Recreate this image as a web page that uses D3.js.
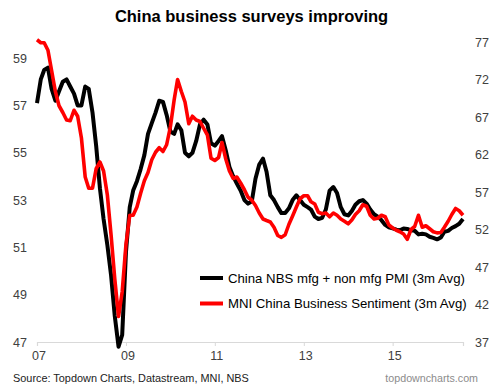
<!DOCTYPE html>
<html>
<head>
<meta charset="utf-8">
<script src="https://cdn.jsdelivr.net/npm/d3@7"></script>
<style>
body { margin: 0; background: #fff; }
text { font-family: "Liberation Sans", Arial, sans-serif; }
</style>
</head>
<body>
<script>
// China NBS mfg + non mfg PMI (3m avg), monthly Jan 2007 - Aug 2016, left axis
const nbsPmi = [
    57.1, 58.1, 58.5, 58.6, 57.7, 57.2, 57.6, 58.0, 58.1, 57.8, 57.5, 57.0,
    57.0, 57.8, 57.7, 56.7, 55.3, 53.5, 52.2, 51.1, 49.8, 48.1, 46.8, 47.3,
    50.8, 52.7, 53.4, 53.8, 54.3, 54.9, 55.8, 56.25, 56.7, 57.2, 57.15, 56.6,
    55.9, 55.8, 56.2, 55.95, 55.0, 54.85, 55.0, 55.5, 56.2, 56.4, 56.2, 55.4,
    55.3, 55.5, 55.7, 55.1, 54.4, 54.0, 53.7, 53.4, 53.0, 52.85, 52.95, 53.9,
    54.5, 54.75, 54.2, 53.2, 53.0, 52.7, 52.45, 52.45, 52.65, 53.0, 53.2, 53.0,
    52.8, 52.7, 52.6, 52.3, 52.2, 52.25, 52.6, 53.4, 53.55, 53.3, 52.7, 52.4,
    52.35, 52.55, 52.8, 52.95, 53.0, 52.85, 52.6, 52.4, 52.3, 52.15, 51.95, 51.85,
    51.8, 51.75, 51.72, 51.8, 51.78, 51.72, 51.7, 51.55, 51.58, 51.55, 51.45, 51.4,
    51.34, 51.42, 51.66, 51.7, 51.82, 51.9, 52.0, 52.2
]

// MNI China Business Sentiment (3m avg), same months, right axis
const mniSentiment = [
    77.3, 76.9, 76.9, 75.9, 73.2, 70.4, 68.5, 67.6, 66.6, 66.5, 67.9, 67.1,
    64.2, 59.0, 57.5, 57.5, 60.1, 61.0, 59.8, 56.6, 51.2, 45.4, 40.4, 43.7,
    50.0, 53.9, 53.9, 55.0, 56.8, 58.5, 59.6, 61.3, 62.3, 62.9, 62.4, 63.3,
    65.7, 69.3, 72.0, 70.4, 69.0, 66.1, 67.1, 66.6, 66.4, 65.5, 64.6, 61.5,
    61.2, 61.6, 63.6, 61.4, 59.8, 58.8, 59.0, 58.2, 57.3, 56.3, 55.9, 55.2,
    54.2, 53.4, 53.2, 53.0, 52.3, 51.2, 50.95, 51.3, 52.7, 53.8, 55.0, 56.1,
    56.5, 56.5, 55.7, 55.4, 54.3, 54.1, 54.2, 53.7, 54.2, 53.9, 53.4, 53.1,
    52.75, 53.3, 54.0, 54.5, 55.3, 55.1, 53.9, 53.4, 53.5, 53.9, 53.7, 52.6,
    52.2, 51.9, 51.7, 51.4, 50.7, 52.0, 52.4, 53.9, 52.3, 52.5, 52.1, 51.7,
    51.55, 51.6, 52.3, 53.1, 54.0, 54.8, 54.5, 53.9
]

const leftTicks = [47, 49, 51, 53, 55, 57, 59]
const rightTicks = [37, 42, 47, 52, 57, 62, 67, 72, 77]
const yearTicks = [2007, 2009, 2011, 2013, 2015]
const seriesNames = ["China NBS mfg + non mfg PMI (3m Avg)", "MNI China Business Sentiment (3m Avg)"]

const months = d3.timeMonths(new Date(2007, 0, 1), new Date(2016, 8, 1))

const svg = d3.select("body").append("svg")
    .attr("width", 499)
    .attr("height", 388)

// plot area edges
const plotLeft = 37, plotRight = 463, plotTop = 34.5, plotBottom = 342

const x = d3.scaleTime()
    .domain([months[0], months[months.length - 1]])
    .range([plotLeft, plotRight])

const yL = d3.scaleLinear().domain([47, 60]).range([plotBottom, plotTop])
const yR = d3.scaleLinear().domain([37, 78]).range([plotBottom, plotTop])

// title
svg.append("text")
    .attr("x", 251.5)
    .attr("y", 21.5)
    .attr("text-anchor", "middle")
    .style("font-size", "16.5px")
    .style("font-weight", "bold")
    .text("China business surveys improving")

// left axis labels
svg.selectAll(".yl")
    .data(leftTicks)
    .enter()
    .append("text")
    .attr("x", 27)
    .attr("y", d => yL(d) + 4.5)
    .attr("text-anchor", "end")
    .style("font-size", "12.5px")
    .style("fill", "#404040")
    .text(d => d)

// right axis labels
svg.selectAll(".yr")
    .data(rightTicks)
    .enter()
    .append("text")
    .attr("x", 475)
    .attr("y", d => yR(d) + 4.5)
    .style("font-size", "12.5px")
    .style("fill", "#404040")
    .text(d => d)

// x axis
const xAxis = d3.axisBottom(x)
    .tickValues(yearTicks.map(y => new Date(y, 0, 1)))
    .tickSize(4)
    .tickFormat(d3.timeFormat("%y"))

const gx = svg.append("g")
    .attr("transform", `translate(0,${plotBottom})`)
    .call(xAxis)
gx.select(".domain").attr("stroke", "#d9d9d9").attr("stroke-width", 1.2)
gx.selectAll(".tick line").attr("stroke", "#d9d9d9")
gx.selectAll(".tick text")
    .attr("dx", 1.5)
    .attr("y", 9)
    .style("font-size", "12.5px")
    .style("font-family", "'Liberation Sans', Arial, sans-serif")
    .style("fill", "#404040")

// lines
const lineL = d3.line().x((d, i) => x(months[i])).y(d => yL(d))
const lineR = d3.line().x((d, i) => x(months[i])).y(d => yR(d))

svg.append("path")
    .attr("d", lineL(nbsPmi))
    .attr("fill", "none")
    .attr("stroke", "#000")
    .attr("stroke-width", 4)
    .attr("stroke-linejoin", "round")

svg.append("path")
    .attr("d", lineR(mniSentiment))
    .attr("fill", "none")
    .attr("stroke", "#ff0000")
    .attr("stroke-width", 3.6)
    .attr("stroke-linejoin", "round")

// legend
const legendColors = ["#000", "#ff0000"]
seriesNames.forEach((name, i) => {
    const ly = 278 + i * 25.5
    svg.append("line")
        .attr("x1", 200).attr("x2", 223)
        .attr("y1", ly).attr("y2", ly)
        .attr("stroke", legendColors[i])
        .attr("stroke-width", 4)
    svg.append("text")
        .attr("x", 228)
        .attr("y", ly + 4.5)
        .style("font-size", "13.2px")
        .style("fill", "#000")
        .text(name)
})

// footer
svg.append("text")
    .attr("x", 13)
    .attr("y", 382)
    .style("font-size", "10.9px")
    .style("fill", "#222")
    .text("Source: Topdown Charts, Datastream, MNI, NBS")

svg.append("text")
    .attr("x", 478)
    .attr("y", 382)
    .attr("text-anchor", "end")
    .style("font-size", "10.7px")
    .style("fill", "#8c8c8c")
    .text("topdowncharts.com")
</script>
</body>
</html>
